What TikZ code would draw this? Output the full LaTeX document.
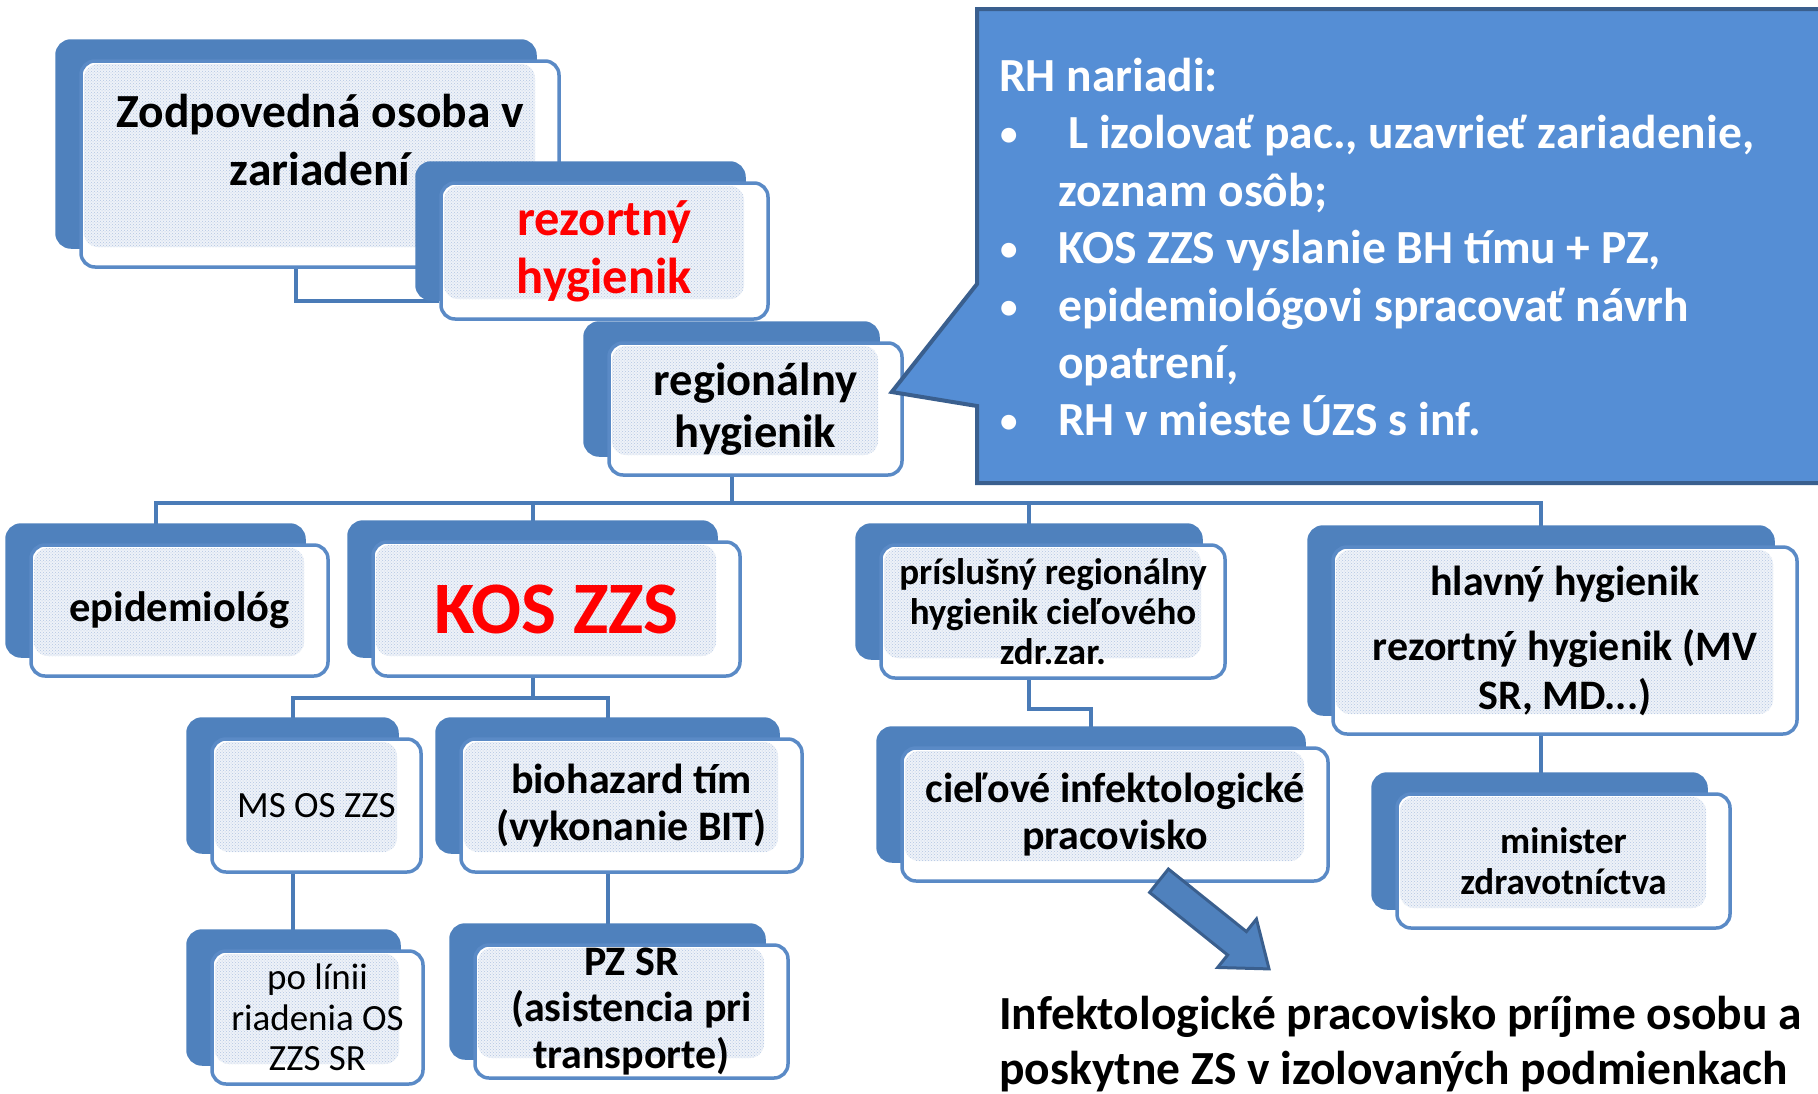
\documentclass[tikz,border=0pt]{standalone}
\usepackage{fontspec}
\setmainfont{Carlito}
\usetikzlibrary{shadows,backgrounds,patterns}

\definecolor{backblue}{HTML}{4F81BD}
\definecolor{edgeblue}{HTML}{5A8AC6}
\definecolor{linkblue}{HTML}{4A7BB7}
\definecolor{texblue}{HTML}{EEF2F8}
\definecolor{texdot}{HTML}{B3C6E3}
\definecolor{callblue}{HTML}{558ED5}
\definecolor{calledge}{HTML}{3A5F8E}
\definecolor{alertred}{HTML}{FF0000}

\newcommand{\rhbullet}{\makebox[59pt][l]{\hspace{1pt}\raisebox{3pt}{\fontsize{35}{35}\selectfont\textbullet}}}

\tikzset{
  fsize/.style 2 args={font=\bfseries\fontsize{#1}{#2}\selectfont},
  fsizereg/.style 2 args={font=\mdseries\fontsize{#1}{#2}\selectfont},
  orgbox/.style={draw=edgeblue, line width=3.5pt, fill=white, rounded corners=14pt,
    align=center, inner sep=0pt,
    copy shadow={shadow xshift=-24pt, shadow yshift=20pt, fill=backblue, draw=backblue},
    path picture={\fill[texblue, postaction={pattern=crosshatch dots, pattern color=texdot}]
      ([xshift=3pt,yshift=-3pt]path picture bounding box.north west)
      rectangle ([xshift=-24pt,yshift=20pt]path picture bounding box.south east);}},
  link/.style={draw=linkblue, line width=4pt},
  bubble/.style={fill=callblue, draw=calledge, line width=4pt, line join=miter},
  bubbletext/.style={text=white, align=left, inner sep=0pt, fsize={47.5}{57.4}},
  bigarrow/.style={fill=backblue, draw=calledge, line width=3pt, line join=miter},
}

\begin{document}
\begin{tikzpicture}[x=1pt, y=-1pt]
  \useasboundingbox (0,0) rectangle (1818,1093);
  \clip (0,0) rectangle (1818,1093);

  % horna cast
  \node[orgbox, minimum width=478pt, minimum height=206pt] (zodp) at (320,164) {};
  \node[align=center, fsize={47.5}{58}] (zodptext) at ([yshift=24pt]zodp.center) {Zodpovedná osoba v\\zariadení};
  \node[orgbox, minimum width=327pt, minimum height=136pt, fsize={50.5}{58}, text=alertred] (rezh) at (604.5,251) {rezortný\\hygienik};
  \node[orgbox, minimum width=293pt, minimum height=132pt, fsize={46.5}{52}] (regh) at (755.5,409) {regionálny\\hygienik};

  % bublina RH
  \coordinate (rhtip) at ([xshift=-12pt,yshift=17pt]regh.east);
  \draw[bubble] (977,9) -- (1830,9) -- (1830,483) -- (977,483) -- (977,406) -- (rhtip) -- (977,284) -- cycle;
  \node[bubbletext, anchor=north west] (rhtext) at (999,58) {RH nariadi:\\
    \rhbullet\hspace{10pt}L izolovať pac., uzavrieť zariadenie,\\
    \hspace*{59pt}zoznam osôb;\\
    \rhbullet KOS ZZS vyslanie BH tímu + PZ,\\
    \rhbullet epidemiológovi spracovať návrh\\
    \hspace*{59pt}opatrení,\\
    \rhbullet RH v mieste ÚZS s inf.};

  % druha uroven
  \node[orgbox, minimum width=297pt, minimum height=131pt, fsize={42.5}{50}] (epid) at (179.5,610.5) {epidemiológ};
  \node[orgbox, minimum width=367pt, minimum height=134pt, fsize={74}{80}, text=alertred] (kos) at (556.5,609) {KOS ZZS};
  \node[orgbox, minimum width=344pt, minimum height=133pt, fsize={37}{40}] (prisl) at (1053,611.5) {príslušný regionálny\\hygienik cieľového\\zdr.zar.};
  \node[orgbox, minimum width=464pt, minimum height=187pt, fsize={42}{49}] (hlavny) at (1565,640.5) {hlavný hygienik\\[16pt]rezortný hygienik (MV\\SR, MD...)};

  % tretia uroven
  \node[orgbox, minimum width=209pt, minimum height=133pt, fsizereg={37}{41}] (msos) at (316.5,805.5) {MS OS ZZS};
  \node[orgbox, minimum width=341pt, minimum height=133pt, fsize={42}{47.5}] (bio) at (631.5,805.5) {biohazard tím\\(vykonanie BIT)};
  \node[orgbox, minimum width=426pt, minimum height=133pt, fsize={42}{46.5}] (ciel) at (1115,814.5) {cieľové infektologické\\pracovisko};
  \node[orgbox, minimum width=333pt, minimum height=134pt, fsize={37}{41}] (minister) at (1563.5,861) {minister\\zdravotníctva};
  \node[orgbox, minimum width=211pt, minimum height=133pt, fsizereg={37}{40.5}] (polinii) at (317.5,1017.5) {po línii\\riadenia OS\\ZZS SR};
  \node[orgbox, minimum width=313pt, minimum height=133pt, fsize={42}{46.5}] (pzsr) at (631.5,1011.5) {PZ SR\\(asistencia pri\\transporte)};

  % sipka k textu
  \begin{scope}[shift={([xshift=44pt,yshift=2pt]ciel.south)}, rotate=-38.7]
    \draw[bigarrow] (0,-15) -- (100,-15) -- (100,-31) -- (141,0) -- (100,31) -- (100,15) -- (0,15) -- cycle;
  \end{scope}
  \node[anchor=north west, align=left, inner sep=0pt, fsize={47.5}{55}] (infek) at (999,996) {Infektologické pracovisko príjme osobu a\\poskytne ZS v izolovaných podmienkach};

  % spojnice
  \begin{scope}[on background layer]
    \draw[link] ([xshift=-24pt]zodp.south) |- ([yshift=-50pt]rezh.west);
    \foreach \child in {epid,kos,prisl,hlavny}
      \draw[link] ([xshift=-24pt]regh.south) -- ++(0,26) -| ([xshift=-24pt]\child.north);
    \foreach \child in {msos,bio}
      \draw[link] ([xshift=-24pt]kos.south) -- ++(0,20) -| ([xshift=-24pt]\child.north);
    \draw[link] ([xshift=-24pt]msos.south) -- ([xshift=-24pt]msos.south |- polinii.north);
    \draw[link] ([xshift=-24pt]bio.south) -- ([xshift=-24pt]bio.south |- pzsr.north);
    \draw[link] ([xshift=-24pt]prisl.south) -- ++(0,29) -| ([xshift=-24pt]ciel.north);
    \draw[link] ([xshift=-24pt]hlavny.south) -- ([xshift=-24pt]hlavny.south |- minister.north);
  \end{scope}
\end{tikzpicture}
\end{document}
